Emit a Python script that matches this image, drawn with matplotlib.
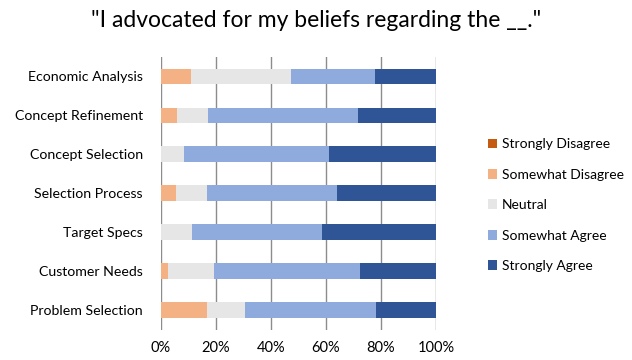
import matplotlib
matplotlib.use("Agg")
import matplotlib.pyplot as plt
from matplotlib.patches import Patch
import numpy as np

plt.rcParams['font.family'] = ['Lato', 'DejaVu Sans']

categories = ["Economic Analysis", "Concept Refinement", "Concept Selection",
              "Selection Process", "Target Specs", "Customer Needs", "Problem Selection"]
series_names = ["Strongly Disagree", "Somewhat Disagree", "Neutral", "Somewhat Agree", "Strongly Agree"]
strongly_disagree = [0.0, 0.0, 0.0, 0.0, 0.0, 0.0, 0.0]
somewhat_disagree = [11.1, 5.7, 0.0, 5.5, 0.0, 2.7, 16.6]
neutral = [36.3, 11.5, 8.2, 11.1, 11.2, 16.7, 13.9]
somewhat_agree = [30.6, 54.4, 53.0, 47.5, 47.2, 53.1, 47.6]
strongly_agree = [22.0, 28.4, 38.8, 35.9, 41.6, 27.5, 21.9]
colors = ["#C55A11", "#F4B183", "#E6E6E6", "#8FAADC", "#2F5597"]
xticks = [0, 20, 40, 60, 80, 100]
xtick_labels = ["0%", "20%", "40%", "60%", "80%", "100%"]

data = [strongly_disagree, somewhat_disagree, neutral, somewhat_agree, strongly_agree]

fig = plt.figure(figsize=(6.32, 3.6), dpi=100)
ax = fig.add_axes([0.2547, 0.0847, 0.4351, 0.758])

y = np.arange(len(categories))
left = np.zeros(len(categories))
for vals, name, c in zip(data, series_names, colors):
    v = np.array(vals)
    ax.barh(y, v, left=left, height=0.39, color=c, label=name, zorder=3)
    left += v

ax.set_ylim(len(categories) - 0.5, -0.5)
ax.set_xlim(0, 100)
ax.set_xticks(xticks)
ax.set_xticklabels(xtick_labels, fontsize=10.5)
ax.set_yticks(y)
ax.set_yticklabels(categories, fontsize=10.2)
ax.tick_params(axis='y', length=0, pad=13)
ax.tick_params(axis='x', length=0, pad=8)
for s in ax.spines.values():
    s.set_visible(False)
ax.grid(axis='x', color='#8c8c8c', linewidth=1.0, zorder=0)
ax.set_axisbelow(True)

fig.text(0.5, 0.944, '"I advocated for my beliefs regarding the __."', ha='center', va='center', fontsize=16.5)

handles = [Patch(facecolor=c, edgecolor='none', label=n) for n, c in zip(series_names, colors)]
fig.legend(handles=handles, loc='center left', bbox_to_anchor=(0.752, 0.43), frameon=False,
           fontsize=10, handlelength=0.7, handleheight=0.7, handletextpad=0.3, labelspacing=1.33)

fig.savefig("out.png", dpi=100)
